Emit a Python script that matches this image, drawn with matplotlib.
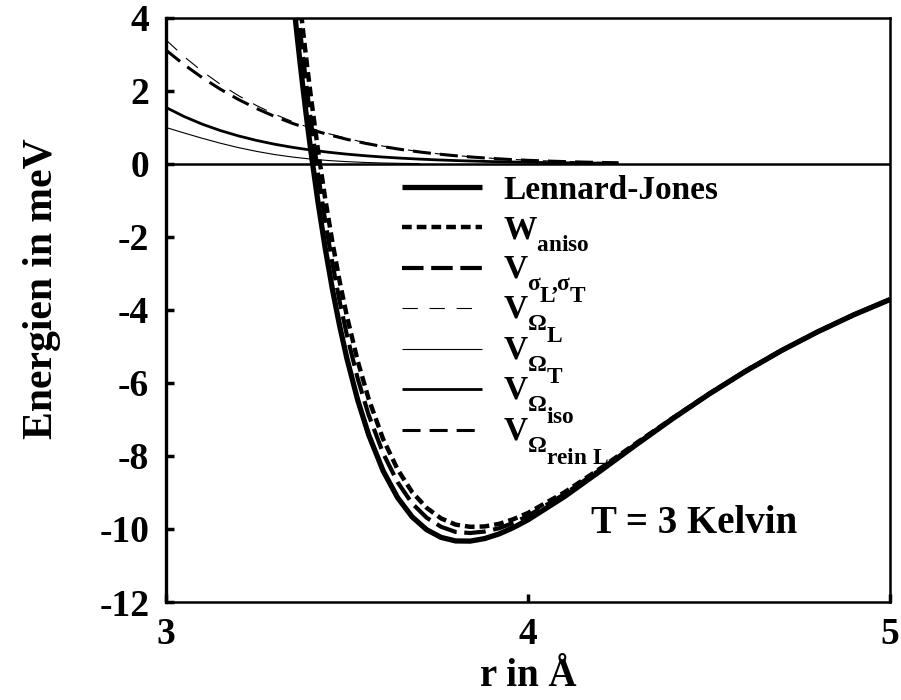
import matplotlib
matplotlib.use("Agg")
import matplotlib.pyplot as plt
from matplotlib.lines import Line2D

plt.rcParams["font.family"] = ["Liberation Serif", "DejaVu Serif"]
plt.rcParams["font.weight"] = "bold"
plt.rcParams["mathtext.fontset"] = "custom"
plt.rcParams["mathtext.rm"] = "Liberation Serif:bold"
plt.rcParams["mathtext.it"] = "Liberation Serif:bold"
plt.rcParams["mathtext.bf"] = "Liberation Serif:bold"
plt.rcParams["mathtext.sf"] = "Liberation Serif:bold"
plt.rcParams["lines.scale_dashes"] = False

# deeper subscripts, and nested subscripts kept at the first script size
try:
    import matplotlib._mathtext as _mt

    class _DeepSubConstants(_mt.FontConstantsBase):
        sub1 = 0.75
        subdrop = 0.75
        script_space = 0.03

    _mt._font_constant_mapping["Liberation Serif"] = _DeepSubConstants
    _mt.NUM_SIZE_LEVELS = 2
except Exception:
    pass

# ---- potential curves in the well (r in Angstrom, energies in meV) ----
r_well = [3.34, 3.35, 3.36, 3.37, 3.38, 3.39, 3.40, 3.42, 3.44, 3.46, 3.48,
          3.50, 3.53, 3.56, 3.60, 3.64, 3.68, 3.72, 3.76, 3.80, 3.84, 3.88,
          3.92, 3.96, 4.00, 4.10, 4.20, 4.30, 4.40, 4.50, 4.60, 4.70, 4.80,
          4.90, 5.00]
lennard_jones = [5.692, 4.681, 3.722, 2.814, 1.954, 1.140, 0.370, -1.049,
                 -2.315, -3.444, -4.447, -5.337, -6.481, -7.422, -8.411,
                 -9.144, -9.668, -10.019, -10.230, -10.327, -10.332, -10.263,
                 -10.135, -9.960, -9.749, -9.118, -8.409, -7.683, -6.975,
                 -6.305, -5.684, -5.114, -4.598, -4.132, -3.713]
w_aniso = [7.44, 6.38, 5.38, 4.43, 3.53, 2.68, 1.87, 0.38, -0.96, -2.15,
           -3.23, -4.18, -5.41, -6.44, -7.54, -8.37, -8.99, -9.42, -9.71,
           -9.88, -9.94, -9.93, -9.86, -9.73, -9.56, -9.00, -8.34, -7.64,
           -6.96, -6.30, -5.68, -5.11, -4.60, -4.13, -3.71]
v_sigma = [6.64, 5.61, 4.63, 3.70, 2.82, 1.99, 1.20, -0.26, -1.57, -2.73,
           -3.78, -4.70, -5.89, -6.88, -7.93, -8.72, -9.30, -9.69, -9.94,
           -10.08, -10.11, -10.07, -9.98, -9.83, -9.64, -9.05, -8.37, -7.66,
           -6.97, -6.31, -5.68, -5.11, -4.60, -4.13, -3.71]

# ---- repulsive contributions ----
r_tail = [3.00, 3.05, 3.10, 3.15, 3.20, 3.25, 3.30, 3.35, 3.40, 3.45, 3.50,
          3.55, 3.60, 3.65, 3.70, 3.75, 3.80, 3.85, 3.90, 3.95, 4.00, 4.05,
          4.10, 4.15, 4.20, 4.25]
v_omega_L = [3.400, 2.943, 2.540, 2.185, 1.874, 1.602, 1.365, 1.160, 0.983,
             0.830, 0.698, 0.586, 0.490, 0.409, 0.340, 0.281, 0.233, 0.192,
             0.157, 0.129, 0.105, 0.085, 0.069, 0.056, 0.045, 0.036]
v_omega_reinL = [3.120, 2.723, 2.367, 2.050, 1.769, 1.521, 1.303, 1.112,
                 0.945, 0.801, 0.676, 0.568, 0.476, 0.397, 0.330, 0.273,
                 0.226, 0.186, 0.152, 0.124, 0.101, 0.082, 0.066, 0.053,
                 0.043, 0.034]
v_omega_iso = [1.550, 1.301, 1.092, 0.917, 0.770, 0.646, 0.542, 0.455, 0.382,
               0.321, 0.269, 0.226, 0.190, 0.159, 0.134, 0.112, 0.094, 0.079,
               0.066, 0.056, 0.047, 0.039, 0.033, 0.028, 0.023, 0.020]
r_tail_T = [3.00, 3.05, 3.10, 3.15, 3.20, 3.25, 3.30, 3.35, 3.40, 3.45, 3.50,
            3.55, 3.60, 3.65, 3.70]
v_omega_T = [1.000, 0.850, 0.705, 0.570, 0.449, 0.346, 0.259, 0.190, 0.135,
             0.094, 0.064, 0.042, 0.027, 0.017, 0.011]

x_ticks = [3, 4, 5]
y_ticks = [-12, -10, -8, -6, -4, -2, 0, 2, 4]

labels = ["Lennard-Jones",
          r"$W_{aniso}$",
          r"$V_{\sigma_L{,}\sigma_T}$",
          r"$V_{\Omega_L}$",
          r"$V_{\Omega_T}$",
          r"$V_{\Omega_{iso}}$",
          r"$V_{\Omega_{rein\ L}}$"]

styles = [dict(lw=3.8, ls="-"),
          dict(lw=3.2, ls=(0, (7.0, 3.6))),
          dict(lw=3.0, ls=(0, (15.5, 5.5))),
          dict(lw=0.8, ls=(0, (11.0, 8.5))),
          dict(lw=0.8, ls="-"),
          dict(lw=2.0, ls="-"),
          dict(lw=2.2, ls=(0, (13.0, 6.5)))]

series = [(r_well, lennard_jones), (r_well, w_aniso), (r_well, v_sigma),
          (r_tail, v_omega_L), (r_tail_T, v_omega_T), (r_tail, v_omega_iso),
          (r_tail, v_omega_reinL)]

fig = plt.figure(figsize=(9.01, 7.0), dpi=100)
ax = fig.add_axes([0.1842, 0.14, 0.8036, 0.8343])

ax.axhline(0, color="black", lw=1.8, zorder=1)

# tails first, well curves on top
draw_order = [3, 4, 5, 6, 2, 1, 0]
for i in draw_order:
    xs, ys = series[i]
    ax.plot(xs, ys, color="black", solid_capstyle="butt",
            dash_capstyle="butt", zorder=2 + (i < 3), **styles[i])

ax.set_xlim(3, 5)
ax.set_ylim(-12, 4)
ax.set_xticks(x_ticks)
ax.set_yticks(y_ticks)
ax.set_xticklabels([str(t) for t in x_ticks])
ax.set_yticklabels([str(t) for t in y_ticks])
ax.tick_params(direction="in", length=6, width=2.5, labelsize=27)
ax.tick_params(axis="y", pad=12)
ax.tick_params(axis="x", pad=11)
for side in ["left", "bottom", "top", "right"]:
    ax.spines[side].set_linewidth(1.8)
ax.spines["left"].set_linewidth(2.4)

ax.set_xlabel("r in Å", fontsize=28, fontweight="bold", labelpad=4)
ax.set_ylabel("Energien in meV", fontsize=30, fontweight="bold")
ax.yaxis.set_label_coords(-0.145, 0.537)

# legend built from the line styles
x0, x1, xt = 0.326, 0.4365, 0.4655
y0, dy = 0.7106, 0.0693
for i, (lab, st) in enumerate(zip(labels, styles)):
    y = y0 - i * dy
    ax.add_line(Line2D([x0, x1], [y, y], transform=ax.transAxes,
                       color="black", solid_capstyle="butt",
                       dash_capstyle="butt", **st))
    ax.text(xt, y, lab, transform=ax.transAxes, fontsize=24,
            fontweight="bold", va="center_baseline", ha="left")

ax.text(4.46, -9.85, "T = 3 Kelvin", fontsize=28, fontweight="bold",
        ha="center", va="center")

fig.savefig("out.png", dpi=100)
